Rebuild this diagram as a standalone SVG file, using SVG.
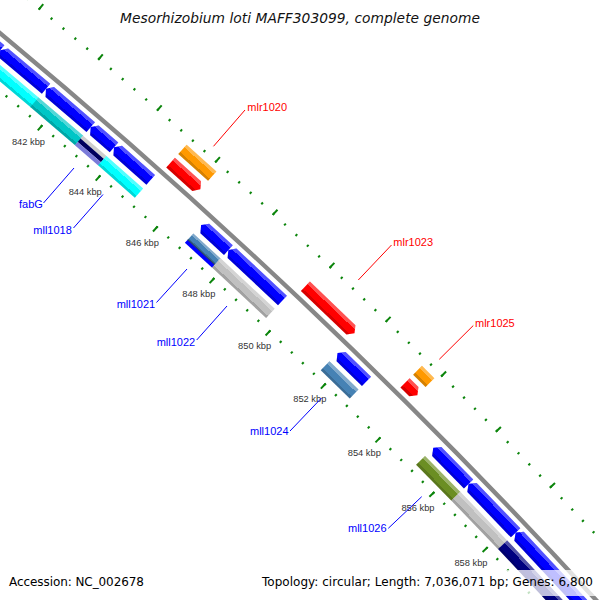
<svg xmlns="http://www.w3.org/2000/svg" width="600" height="600" viewBox="0 0 600 600">
<style>
.bb{fill:none;stroke:#878787;stroke-width:4.4}
.tk{fill:none;stroke:#0c850c;stroke-dashoffset:1}
.bl{fill:#0000ff}.rd{fill:#ff0000}.or{fill:#ff9900}.cy{fill:#00ffff}.dc{fill:#00c6c6}
.gy{fill:#c0c0c0}.sb{fill:#4682b4}.ol{fill:#6b8e23}.nv{fill:#000080}
.sh{fill:url(#sh)}
.kb{font-family:"Liberation Sans",Arial,sans-serif;font-size:9.3px;fill:#333;text-anchor:middle}
.gl{font-family:"Liberation Sans",Arial,sans-serif;font-size:11px}
.r{fill:#ff0000}.b{fill:#0000ff}
.lr{stroke:#ff0000;stroke-width:1}.lb{stroke:#0000ff;stroke-width:1}
.lg{font-family:"DejaVu Sans",Verdana,sans-serif;font-size:12px;fill:#000}
</style>
<defs>
<linearGradient id="sh" x1="0" y1="0" x2="0" y2="1">
<stop offset="0" stop-color="#fff" stop-opacity=".32"/>
<stop offset=".27" stop-color="#fff" stop-opacity=".32"/>
<stop offset=".27" stop-color="#fff" stop-opacity="0"/>
<stop offset=".78" stop-color="#000" stop-opacity="0"/>
<stop offset=".78" stop-color="#000" stop-opacity=".16"/>
<stop offset="1" stop-color="#000" stop-opacity=".16"/>
</linearGradient>
</defs>
<rect width="600" height="600" fill="#fff"/>
<text x="300" y="23" text-anchor="middle" font-family="DejaVu Sans,Verdana,sans-serif" font-style="italic" font-size="13.8" fill="#111" textLength="360" lengthAdjust="spacing">Mesorhizobium loti MAFF303099, complete genome</text>
<g id="map" transform="translate(-3859.1 4688.1) rotate(43.46)">
<g id="backbone">
<circle class="bb" r="6046.5"/>
</g>
<g id="ticks">
<path class="tk" stroke-width="2.5" stroke-dasharray="2 13.341" d="M-459.78 -5984.62A6002.25 6002.25 0 0 1 459.78 -5984.62"/>
<path class="tk" stroke-width="7" stroke-dasharray="2 74.676" d="M-459.61 -5982.37A6000 6000 0 0 1 459.61 -5982.37"/>
<path class="tk" stroke-width="2.5" stroke-dasharray="2 13.567" d="M-466.56 -6072.86A6090.75 6090.75 0 0 1 466.56 -6072.86"/>
<path class="tk" stroke-width="7" stroke-dasharray="2 75.865" d="M-466.73 -6075.10A6093 6093 0 0 1 466.73 -6075.10"/>
</g>
<g id="gene_a0" transform="rotate(-4.0746) translate(0 -6046.5)">
<polygon class="bl" points="-40,13 -35,6.5 40,6.5 40,19.5 -35,19.5"/><polygon class="sh" points="-40,13 -35,6.5 40,6.5 40,19.5 -35,19.5"/>
<rect class="cy" x="-40" y="24.5" width="80" height="12.5"/><rect class="sh" x="-40" y="24.5" width="80" height="12.5"/>
</g>
<g id="gene_a" transform="rotate(-3.4113) translate(0 -6046.5)">
<polygon class="bl" points="-30,13 -25,6.5 30,6.5 30,19.5 -25,19.5"/><polygon class="sh" points="-30,13 -25,6.5 30,6.5 30,19.5 -25,19.5"/>
<rect class="cy" x="-30.5" y="24.5" width="61" height="12.5"/><rect class="sh" x="-30.5" y="24.5" width="61" height="12.5"/>
</g>
<g id="gene_b" transform="rotate(-2.8475) translate(0 -6046.5)">
<polygon class="bl" points="-29.5,13 -24.5,6.5 29.5,6.5 29.5,19.5 -24.5,19.5"/><polygon class="sh" points="-29.5,13 -24.5,6.5 29.5,6.5 29.5,19.5 -24.5,19.5"/>
<rect class="dc" x="-29.5" y="24.5" width="59" height="12.5"/><rect class="sh" x="-29.5" y="24.5" width="59" height="12.5"/>
</g>
<g id="fabG" transform="rotate(-2.4211) translate(0 -6046.5)">
<polygon class="bl" points="-15.5,13 -10.5,6.5 15.5,6.5 15.5,19.5 -10.5,19.5"/><polygon class="sh" points="-15.5,13 -10.5,6.5 15.5,6.5 15.5,19.5 -10.5,19.5"/>
<rect x="-15.5" y="24.5" width="31" height="3.8" fill="#cdcdcd"/>
<rect x="-15.5" y="28.3" width="31" height="4.5" fill="#00005e"/>
<rect x="-15.5" y="32.8" width="31" height="4.2" fill="#7b7bd9"/>
</g>
<g id="mll1018" transform="rotate(-2.0421) translate(0 -6046.5)">
<polygon class="bl" points="-24.5,13 -19.5,6.5 24.5,6.5 24.5,19.5 -19.5,19.5"/><polygon class="sh" points="-24.5,13 -19.5,6.5 24.5,6.5 24.5,19.5 -19.5,19.5"/>
<rect class="cy" x="-24.5" y="24.5" width="49" height="12.5"/><rect class="sh" x="-24.5" y="24.5" width="49" height="12.5"/>
</g>
<g id="mlr1020" transform="rotate(-1.5872) translate(0 -6046.5)">
<rect class="or" x="-20" y="-37" width="40" height="12.5"/><rect class="sh" x="-20" y="-37" width="40" height="12.5"/>
<polygon class="rd" points="-20,-19.5 15,-19.5 20,-13 15,-6.5 -20,-6.5"/><polygon class="sh" points="-20,-19.5 15,-19.5 20,-13 15,-6.5 -20,-6.5"/>
</g>
<g id="mll1021" transform="rotate(-0.9902) translate(0 -6046.5)">
<polygon class="bl" points="-18.5,13 -13.5,6.5 18.5,6.5 18.5,19.5 -13.5,19.5"/><polygon class="sh" points="-18.5,13 -13.5,6.5 18.5,6.5 18.5,19.5 -13.5,19.5"/>
<rect class="sb" x="-18.5" y="24.5" width="37" height="8.3"/><rect class="sh" x="-18.5" y="24.5" width="37" height="8.3"/>
<rect class="bl" x="-18.5" y="32.8" width="37" height="4.2"/>
<rect x="-18.5" y="32.3" width="37" height="1" fill="#23405a"/>
</g>
<g id="mll1022" transform="rotate(-0.4643) translate(0 -6046.5)">
<polygon class="bl" points="-37,13 -32,6.5 37,6.5 37,19.5 -32,19.5"/><polygon class="sh" points="-37,13 -32,6.5 37,6.5 37,19.5 -32,19.5"/>
<rect class="gy" x="-37" y="24.5" width="74" height="12.5"/><rect class="sh" x="-37" y="24.5" width="74" height="12.5"/>
</g>
<g id="mlr1023" transform="rotate(0.2748) translate(0 -6046.5)">
<polygon class="rd" points="-34,-19.5 29,-19.5 34,-13 29,-6.5 -34,-6.5"/><polygon class="sh" points="-34,-19.5 29,-19.5 34,-13 29,-6.5 -34,-6.5"/>
</g>
<g id="mll1024" transform="rotate(0.8031) translate(0 -6046.5)">
<polygon class="bl" points="-20.25,13 -15.25,6.5 20.25,6.5 20.25,19.5 -15.25,19.5"/><polygon class="sh" points="-20.25,13 -15.25,6.5 20.25,6.5 20.25,19.5 -15.25,19.5"/>
<rect class="sb" x="-20.25" y="24.5" width="40.5" height="12.5"/><rect class="sh" x="-20.25" y="24.5" width="40.5" height="12.5"/>
</g>
<g id="mlr1025" transform="rotate(1.3479) translate(0 -6046.5)">
<rect class="or" x="-8.75" y="-37" width="17.5" height="12.5"/><rect class="sh" x="-8.75" y="-37" width="17.5" height="12.5"/>
<polygon class="rd" points="-8.75,-19.5 3.75,-19.5 8.75,-13 3.75,-6.5 -8.75,-6.5"/><polygon class="sh" points="-8.75,-19.5 3.75,-19.5 8.75,-13 3.75,-6.5 -8.75,-6.5"/>
</g>
<g id="mll1026" transform="rotate(2.1297) translate(0 -6046.5)">
<polygon class="bl" points="-25.25,13 -20.25,6.5 25.25,6.5 25.25,19.5 -20.25,19.5"/><polygon class="sh" points="-25.25,13 -20.25,6.5 25.25,6.5 25.25,19.5 -20.25,19.5"/>
<rect class="ol" x="-25.25" y="24.5" width="50.5" height="12.5"/><rect class="sh" x="-25.25" y="24.5" width="50.5" height="12.5"/>
</g>
<g id="gene_i" transform="rotate(2.6912) translate(0 -6046.5)">
<polygon class="bl" points="-34,13 -29,6.5 34,6.5 34,19.5 -29,19.5"/><polygon class="sh" points="-34,13 -29,6.5 34,6.5 34,19.5 -29,19.5"/>
<rect class="gy" x="-34" y="24.5" width="68" height="12.5"/><rect class="sh" x="-34" y="24.5" width="68" height="12.5"/>
</g>
<g id="gene_j" transform="rotate(3.5914) translate(0 -6046.5)">
<polygon class="bl" points="-61,13 -56,6.5 61,6.5 61,19.5 -56,19.5"/><polygon class="sh" points="-61,13 -56,6.5 61,6.5 61,19.5 -56,19.5"/>
<rect class="nv" x="-61" y="24.5" width="122" height="12.5"/><rect class="sh" x="-61" y="24.5" width="122" height="12.5"/>
</g>
</g>
<g id="kbp-labels">
<text class="kb" x="28.5" y="145">842 kbp</text>
<text class="kb" x="85.2" y="195">844 kbp</text>
<text class="kb" x="142.4" y="245.7">846 kbp</text>
<text class="kb" x="198.8" y="297.4">848 kbp</text>
<text class="kb" x="254.6" y="349.4">850 kbp</text>
<text class="kb" x="309.8" y="402">852 kbp</text>
<text class="kb" x="364.3" y="455.5">854 kbp</text>
<text class="kb" x="418" y="510.5">856 kbp</text>
<text class="kb" x="471" y="565.5">858 kbp</text>
</g>
<g id="connectors">
<line class="lr" x1="245" y1="110" x2="213.5" y2="146.3"/>
<line class="lr" x1="391.5" y1="245" x2="358.3" y2="280"/>
<line class="lr" x1="473.3" y1="325.5" x2="439.3" y2="359.3"/>
<line class="lb" x1="43.5" y1="203" x2="74" y2="168"/>
<line class="lb" x1="73.5" y1="228" x2="103" y2="194.5"/>
<line class="lb" x1="156.5" y1="302.5" x2="187" y2="269"/>
<line class="lb" x1="196.7" y1="340" x2="227" y2="306"/>
<line class="lb" x1="290" y1="431" x2="321.5" y2="398"/>
<line class="lb" x1="388.3" y1="528.3" x2="421.7" y2="496.7"/>
</g>
<g id="gene-labels" class="gl">
<text class="r" x="247.3" y="110.7">mlr1020</text>
<text class="r" x="393.3" y="246.3">mlr1023</text>
<text class="r" x="475" y="327.3">mlr1025</text>
<text class="b" x="19" y="208">fabG</text>
<text class="b" x="33.3" y="234">mll1018</text>
<text class="b" x="116.7" y="308.3">mll1021</text>
<text class="b" x="156.7" y="345.7">mll1022</text>
<text class="b" x="250" y="435">mll1024</text>
<text class="b" x="348" y="532">mll1026</text>
</g>
<g id="legend">
<rect x="256" y="570" width="344" height="26" fill="#fff" fill-opacity=".75"/>
<text class="lg" x="9" y="586" textLength="135" lengthAdjust="spacing">Accession: NC_002678</text>
<text class="lg" x="262" y="586" textLength="331" lengthAdjust="spacing">Topology: circular; Length: 7,036,071 bp; Genes: 6,800</text>
</g>
</svg>
